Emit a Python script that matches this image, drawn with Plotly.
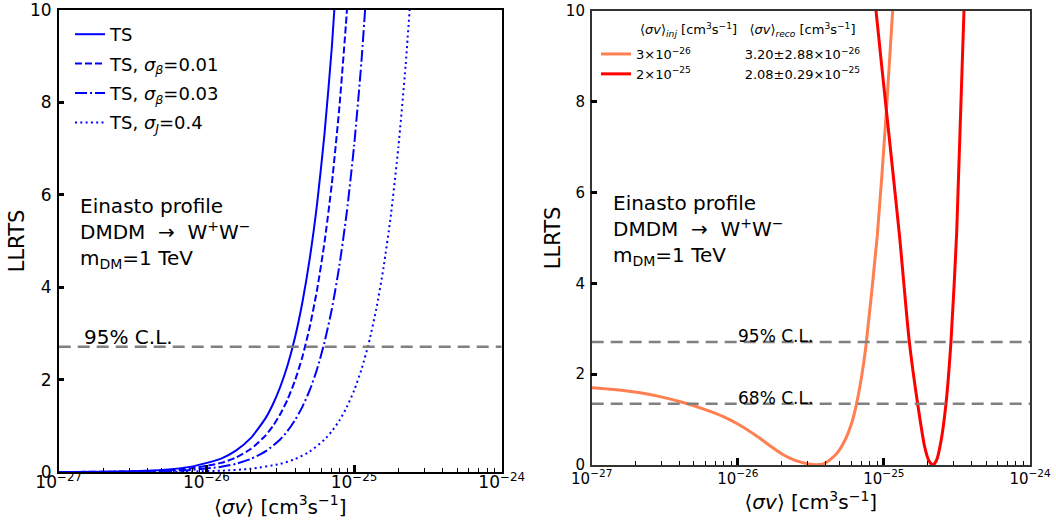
import plotly.graph_objects as go

# ---------------- data ----------------
# Left panel: LLRTS vs <sigma v>  (x in cm^3 s^-1)
sv_ts = [1e-27, 2.512e-27, 5.012e-27, 7.943e-27, 1.259e-26, 1.585e-26, 1.995e-26,
         2.512e-26, 2.818e-26, 3.162e-26, 3.548e-26, 3.981e-26, 4.467e-26, 5.012e-26,
         5.623e-26, 6.310e-26, 7.079e-26, 7.943e-26]
ts_plain = [0.002, 0.012, 0.046, 0.116, 0.291, 0.462, 0.732, 1.16, 1.46, 1.84, 2.31,
            2.91, 3.67, 4.62, 5.81, 7.32, 9.21, 11.6]

sv_b01 = [1e-27, 2.512e-27, 5.012e-27, 7.943e-27, 1.259e-26, 1.585e-26, 1.995e-26,
          2.512e-26, 2.818e-26, 3.162e-26, 3.548e-26, 3.981e-26, 4.467e-26, 5.012e-26,
          5.623e-26, 6.310e-26, 7.079e-26, 7.943e-26, 8.913e-26, 1.0e-25]
ts_b01 = [0.001, 0.008, 0.031, 0.079, 0.198, 0.313, 0.497, 0.787, 0.991, 1.25, 1.57,
          1.98, 2.49, 3.14, 3.95, 4.97, 6.25, 7.87, 9.91, 12.5]

sv_b03 = [1e-27, 2.512e-27, 5.012e-27, 7.943e-27, 1.259e-26, 1.585e-26, 1.995e-26,
          2.512e-26, 3.162e-26, 3.548e-26, 3.981e-26, 4.467e-26, 5.012e-26, 5.623e-26,
          6.310e-26, 7.079e-26, 7.943e-26, 8.913e-26, 1.0e-25, 1.122e-25, 1.259e-25]
ts_b03 = [0.001, 0.004, 0.018, 0.045, 0.112, 0.177, 0.281, 0.445, 0.705, 0.888, 1.12,
          1.41, 1.77, 2.23, 2.81, 3.53, 4.45, 5.60, 7.05, 8.88, 11.2]

sv_j04 = [1e-27, 3.162e-27, 7.943e-27, 1.259e-26, 1.995e-26, 3.162e-26, 3.981e-26,
          5.012e-26, 6.310e-26, 7.079e-26, 7.943e-26, 8.913e-26, 1.0e-25, 1.122e-25,
          1.259e-25, 1.413e-25, 1.585e-25, 1.778e-25, 1.995e-25, 2.239e-25, 2.512e-25]
ts_j04 = [0.0, 0.002, 0.011, 0.028, 0.070, 0.176, 0.279, 0.443, 0.702, 0.884, 1.11,
          1.40, 1.76, 2.22, 2.79, 3.52, 4.43, 5.57, 7.02, 8.83, 11.1]

left_names = ["TS", "TS, <i>σ</i><sub><i>β</i></sub>=0.01",
              "TS, <i>σ</i><sub><i>β</i></sub>=0.03", "TS, <i>σ</i><sub><i>J</i></sub>=0.4"]

# Right panel: injected signals
sv_inj3e26 = [1e-27, 1.413e-27, 2.143e-27, 2.938e-27, 4.467e-27, 6.124e-27, 7.962e-27,
              1.0e-26, 1.346e-26, 1.660e-26, 2.046e-26, 2.399e-26, 2.667e-26, 3.119e-26,
              3.467e-26, 3.802e-26, 4.055e-26, 4.753e-26, 5.420e-26, 6.026e-26, 6.442e-26,
              7.047e-26, 7.534e-26, 9.016e-26, 1.030e-25, 1.148e-25, 1.202e-25]
ts_inj3e26 = [1.70, 1.66, 1.59, 1.506, 1.354, 1.209, 1.065, 0.902, 0.637, 0.424, 0.224,
              0.118, 0.068, 0.018, 0.008, 0.02, 0.06, 0.25, 0.55, 0.93, 1.29, 1.96, 2.62,
              5.06, 7.6, 10.0, 11.0]

sv_inj2e25 = [8.511e-26, 8.831e-26, 1.045e-25, 1.274e-25, 1.493e-25, 1.702e-25, 1.905e-25,
              2.042e-25, 2.163e-25, 2.291e-25, 2.455e-25, 2.661e-25, 2.877e-25,
              3.148e-25, 3.532e-25, 3.631e-25]
ts_inj2e25 = [10.6, 10.0, 7.74, 5.1, 2.71, 1.35, 0.39, 0.083, 0.0, 0.10, 0.51, 1.35,
              2.71, 5.1, 10.0, 10.6]

inj_labels = ["3×10<sup>−26</sup>", "2×10<sup>−25</sup>"]
reco_labels = ["3.20±2.88×10<sup>−26</sup>", "2.08±0.29×10<sup>−25</sup>"]

cl95 = 2.71
cl68 = 1.35
x_span = [1e-27, 1e-24]

x_tickvals = [1e-27, 1e-26, 1e-25, 1e-24]
x_ticktext = ["10<sup>−27</sup>", "10<sup>−26</sup>", "10<sup>−25</sup>", "10<sup>−24</sup>"]
x_minor = [m * 10.0 ** e for e in (-27, -26, -25) for m in range(2, 10)]
y_tickvals = [0, 2, 4, 6, 8, 10]
y_ticktext = ["0", "2", "4", "6", "8", "10"]

# ---------------- figure ----------------
W, H = 1056, 525
FONT = "DejaVu Sans"

def px_x(p):
    return p / W

def px_y(p):
    return 1 - p / H

fig = go.Figure()

blue = "#0000ff"
styles = ["solid", "7px,3px", "12px,3px,2px,3px", "2px,3.3px"]
left_sets = [(sv_ts, ts_plain), (sv_b01, ts_b01), (sv_b03, ts_b03), (sv_j04, ts_j04)]
for i, ((xs, ys), nm, ds) in enumerate(zip(left_sets, left_names, styles)):
    fig.add_trace(go.Scatter(x=xs, y=ys, mode="lines", name=nm,
                             line=dict(color=blue, width=2, dash=ds, shape="spline", smoothing=0.6),
                             xaxis="x", yaxis="y", legend="legend", legendgroup=f"l{i}"))

gray = "#808080"
fig.add_trace(go.Scatter(x=x_span, y=[cl95, cl95], mode="lines", showlegend=False,
                         line=dict(color=gray, width=2.5, dash="12px,7px"), xaxis="x", yaxis="y"))

gap = "\u00a0" * 13
right_sets = [(sv_inj3e26, ts_inj3e26, "#ff7f50"), (sv_inj2e25, ts_inj2e25, "#ff0000")]
for i, ((xs, ys, c), a, b) in enumerate(zip(right_sets, inj_labels, reco_labels)):
    fig.add_trace(go.Scatter(x=xs, y=ys, mode="lines", name=a + gap + b,
                             line=dict(color=c, width=3, shape="spline", smoothing=0.6),
                             xaxis="x2", yaxis="y2", legend="legend2", legendgroup=f"r{i}"))

for v in (cl95, cl68):
    fig.add_trace(go.Scatter(x=x_span, y=[v, v], mode="lines", showlegend=False,
                             line=dict(color=gray, width=2.5, dash="12px,7px"), xaxis="x2", yaxis="y2"))

def xaxis_cfg(domain, fs, col, anchor, lso):
    return dict(type="log", range=[-27, -24], domain=domain, anchor=anchor,
                tickmode="array", tickvals=x_tickvals, ticktext=x_ticktext,
                ticks="inside", ticklen=7, tickwidth=2.5, tickcolor="black",
                minor=dict(ticks="inside", tickmode="array", tickvals=x_minor,
                           ticklen=4, tickwidth=1, tickcolor="black"),
                showline=True, linecolor=col, linewidth=1.5, mirror=True,
                showgrid=False, zeroline=False, automargin=False,
                tickfont=dict(family=FONT, size=fs, color="black"), ticklabelstandoff=lso,
                title=dict(text="⟨<i>σv</i>⟩ [cm<sup>3</sup>s<sup>−1</sup>]",
                           font=dict(family=FONT, size=20, color="black"), standoff=2))

def yaxis_cfg(domain, fs, col, anchor):
    return dict(range=[0, 10.001], domain=domain, anchor=anchor,
                tickmode="array", tickvals=y_tickvals, ticktext=y_ticktext,
                ticks="inside", ticklen=6, tickwidth=3, tickcolor="black",
                showline=True, linecolor=col, linewidth=1.5, mirror=True,
                showgrid=False, zeroline=False, automargin=False,
                tickfont=dict(family=FONT, size=fs, color="black"), ticklabelstandoff=2,
                title=dict(text="LLRTS", font=dict(family=FONT, size=21, color="black"), standoff=0))

fig.update_layout(
    width=W, height=H, margin=dict(l=0, r=0, t=0, b=0),
    paper_bgcolor="white", plot_bgcolor="white",
    font=dict(family=FONT, color="black"),
    xaxis=xaxis_cfg([px_x(58.7), px_x(501.7)], 17, "black", "y", -6),
    yaxis=yaxis_cfg([px_y(472), px_y(10)], 17, "black", "x"),
    xaxis2=xaxis_cfg([px_x(591.7), px_x(1030)], 15, "#333333", "y2", -1),
    yaxis2=yaxis_cfg([px_y(465), px_y(10.7)], 15, "#333333", "x2"),
    legend=dict(x=px_x(70), y=px_y(16), xanchor="left", yanchor="top",
                bgcolor="rgba(0,0,0,0)", font=dict(family=FONT, size=18),
                tracegroupgap=3, itemwidth=30),
    legend2=dict(x=px_x(596), y=px_y(39), xanchor="left", yanchor="top",
                 bgcolor="rgba(0,0,0,0)", font=dict(family=FONT, size=13),
                 tracegroupgap=0, itemwidth=30),
    showlegend=True,
)

info = "Einasto profile<br>DMDM  →  W<sup>+</sup>W<sup>−</sup><br>m<sub>DM</sub>=1 TeV"
fig.add_annotation(text=info, xref="paper", yref="paper", x=px_x(78), y=px_y(192),
                   xanchor="left", yanchor="top", align="left", showarrow=False,
                   font=dict(family=FONT, size=20))
fig.add_annotation(text=info, xref="paper", yref="paper", x=px_x(611), y=px_y(189),
                   xanchor="left", yanchor="top", align="left", showarrow=False,
                   font=dict(family=FONT, size=20))

fig.add_annotation(text="95% C.L.", xref="x", yref="y", x=-26.84, y=cl95,
                   xanchor="left", yanchor="bottom", showarrow=False, yshift=-4,
                   font=dict(family=FONT, size=20))
fig.add_annotation(text="95% C.L.", xref="x2", yref="y2", x=-26.01, y=cl95,
                   xanchor="left", yanchor="bottom", showarrow=False, yshift=-6,
                   font=dict(family=FONT, size=17))
fig.add_annotation(text="68% C.L.", xref="x2", yref="y2", x=-26.01, y=cl68,
                   xanchor="left", yanchor="bottom", showarrow=False, yshift=-6,
                   font=dict(family=FONT, size=17))

header = ("⟨<i>σv</i>⟩<sub><i>inj</i></sub> [cm<sup>3</sup>s<sup>−1</sup>]\u00a0\u00a0\u00a0"
          "⟨<i>σv</i>⟩<sub><i>reco</i></sub> [cm<sup>3</sup>s<sup>−1</sup>]")
fig.add_annotation(text=header, xref="paper", yref="paper", x=px_x(638), y=px_y(30),
                   xanchor="left", yanchor="middle", showarrow=False,
                   font=dict(family=FONT, size=13))

fig.write_html("out.html", config={"displayModeBar": False},
               post_script="document.body.style.margin='0';")
